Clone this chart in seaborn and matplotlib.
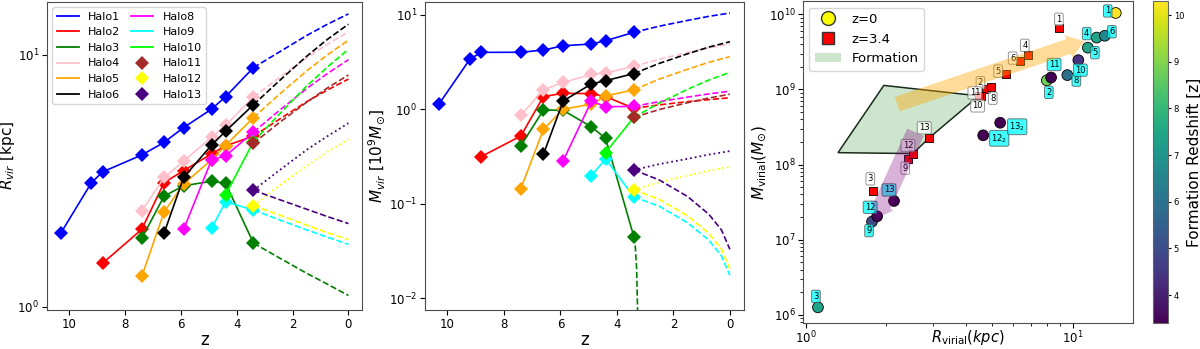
import numpy as np
import matplotlib
matplotlib.use('Agg')
import matplotlib.pyplot as plt
import matplotlib.colors as mcolors
import seaborn as sns
from matplotlib.lines import Line2D
from matplotlib.patches import Patch, Polygon

# ---- data ----
halos = ['Halo1', 'Halo2', 'Halo3', 'Halo4', 'Halo5', 'Halo6',
         'Halo8', 'Halo9', 'Halo10', 'Halo11', 'Halo12', 'Halo13']
colors = {'Halo1': 'blue', 'Halo2': 'red', 'Halo3': 'green', 'Halo4': 'pink',
          'Halo5': 'orange', 'Halo6': 'black', 'Halo8': 'magenta', 'Halo9': 'cyan',
          'Halo10': 'lime', 'Halo11': 'brown', 'Halo12': 'yellow', 'Halo13': 'indigo'}

z_track = {
    'Halo1': [10.3, 9.2, 8.8, 7.4, 6.6, 5.9, 4.9, 4.4, 3.4],
    'Halo2': [8.8, 7.4, 6.6, 5.9, 4.9, 4.4, 3.4],
    'Halo3': [7.4, 6.6, 5.9, 4.9, 4.4, 3.4],
    'Halo4': [7.4, 6.6, 5.9, 4.9, 4.4, 3.4],
    'Halo5': [7.4, 6.6, 5.9, 4.9, 4.4, 3.4],
    'Halo6': [6.6, 5.9, 4.9, 4.4, 3.4],
    'Halo8': [5.9, 4.9, 4.4, 3.4],
    'Halo9': [4.9, 4.4, 3.4],
    'Halo10': [4.4, 3.4],
    'Halo11': [3.4],
    'Halo12': [3.4],
    'Halo13': [3.4],
}
# virial radius [kpc]
R_track = {
    'Halo1': [1.96, 3.11, 3.43, 4.00, 4.49, 5.14, 6.08, 6.81, 8.88],
    'Halo2': [1.49, 2.03, 3.11, 3.47, 4.04, 4.35, 4.75],
    'Halo3': [1.87, 2.75, 3.02, 3.15, 3.09, 1.79],
    'Halo4': [2.40, 3.26, 3.78, 4.71, 5.24, 6.79],
    'Halo5': [1.32, 2.38, 3.07, 3.83, 4.36, 5.63],
    'Halo6': [1.96, 3.26, 4.38, 4.97, 6.33],
    'Halo8': [2.03, 3.83, 3.97, 4.93],
    'Halo9': [2.05, 2.61, 2.42],
    'Halo10': [2.78, 4.52],
    'Halo11': [4.45],
    'Halo12': [2.52],
    'Halo13': [2.90],
}
# virial mass [1e9 Msun]
M_track = {
    'Halo1': [1.13, 3.39, 3.99, 4.00, 4.22, 4.69, 4.89, 5.30, 6.50],
    'Halo2': [0.315, 0.52, 1.36, 1.47, 1.46, 1.36, 1.02],
    'Halo3': [0.41, 0.98, 0.97, 0.65, 0.49, 0.0447],
    'Halo4': [0.86, 1.60, 1.92, 2.33, 2.41, 2.84],
    'Halo5': [0.144, 0.61, 1.0, 1.13, 1.38, 1.60],
    'Halo6': [0.333, 1.22, 1.85, 2.0, 2.38],
    'Halo8': [0.285, 1.22, 1.06, 1.07],
    'Halo9': [0.198, 0.297, 0.118],
    'Halo10': [0.347, 0.82],
    'Halo11': [0.82],
    'Halo12': [0.14],
    'Halo13': [0.227],
}

# extrapolations from z=3.4 to z=0
z_ext = [3.4, 2.5, 1.5, 0.75, 0.0]
z_fall = [3.4, 2.5, 1.5, 0.75, 0.3, 0.0]
z_drop = [3.4, 3.35, 3.3, 3.27, 3.25]
R_ext = {
    'Halo1': [8.88, 10.2, 11.9, 13.2, 14.5],
    'Halo2': [4.75, 5.52, 6.50, 7.24, 8.0],
    'Halo3': [1.79, 1.57, 1.36, 1.23, 1.11],
    'Halo4': [6.79, 8.07, 9.70, 11.0, 12.3],
    'Halo5': [5.63, 6.92, 8.61, 9.98, 11.4],
    'Halo6': [6.33, 7.83, 9.84, 11.5, 13.2],
    'Halo8': [4.93, 5.97, 7.33, 8.42, 9.55],
    'Halo9': [2.42, 2.22, 2.02, 1.89, 1.77],
    'Halo10': [4.52, 5.77, 7.50, 8.93, 10.5],
    'Halo11': [4.45, 5.35, 6.47, 7.38, 8.3],
    'Halo12': [2.52, 2.32, 2.11, 1.97, 1.85],
    'Halo13': [2.90, 2.67, 2.44, 2.28, 2.14],
}
R_ext_up = {'Halo12': [2.52, 3.01, 3.62, 4.12, 4.62],
            'Halo13': [2.90, 3.46, 4.19, 4.75, 5.35]}
M_ext = {
    'Halo1': [6.50, 7.55, 8.69, 9.59, 10.4],
    'Halo2': [1.02, 1.11, 1.20, 1.26, 1.32],
    'Halo3': [0.0447, 0.036, 0.02, 0.008, 0.00126],
    'Halo4': [2.84, 3.38, 3.97, 4.45, 4.89],
    'Halo5': [1.60, 2.08, 2.64, 3.13, 3.59],
    'Halo6': [2.38, 3.05, 3.85, 4.53, 5.17],
    'Halo8': [1.07, 1.20, 1.34, 1.45, 1.55],
    'Halo9': [0.118, 0.0938, 0.0628, 0.0412, 0.0281, 0.0174],
    'Halo10': [0.82, 1.16, 1.62, 2.03, 2.45],
    'Halo11': [0.82, 0.99, 1.17, 1.31, 1.44],
    'Halo12': [0.14, 0.111, 0.0743, 0.0487, 0.0331, 0.0205],
    'Halo13': [0.227, 0.178, 0.119, 0.0775, 0.0528, 0.0328],
}
M_ext_up = {'Halo12': [0.14, 0.168, 0.198, 0.223, 0.245],
            'Halo13': [0.227, 0.262, 0.298, 0.33, 0.36]}
M_ext_z = {'Halo3': z_drop, 'Halo9': z_fall, 'Halo12': z_fall, 'Halo13': z_fall}

hull_order = ['Halo1', 'Halo11', 'Halo13', 'Halo12', 'Halo5']
orange_arrow = [(2.15, 6.2e8), (11.3, 4.5e9)]
purple_arrow = [(2.6, 2.9e8), (1.82, 1.8e7)]

# label offsets in pixels
circle_off = {'Halo1': (-8, 2), 'Halo2': (2, -12), 'Halo3': (-2, 11), 'Halo4': (-10, 4),
              'Halo5': (7, -5), 'Halo6': (7, 4), 'Halo8': (9, -5), 'Halo9': (-3, -9),
              'Halo10': (2, -10), 'Halo11': (3, 13), 'Halo12': (-7, 9), 'Halo13': (-5, 11)}
circle2_off = {'Halo12': (16, -3), 'Halo13': (17, -4)}
square_off = {'Halo1': (0, 9), 'Halo2': (-6, 6), 'Halo3': (-3, 12), 'Halo4': (-3, 10),
              'Halo5': (-8, 3), 'Halo6': (-7, 3), 'Halo8': (2, -11), 'Halo9': (-3, -9),
              'Halo10': (-3, -10), 'Halo11': (-4, 3), 'Halo12': (-5, 8), 'Halo13': (-5, 10)}

plt.rcParams['font.size'] = 8.5

fig = plt.figure(figsize=(12, 3.49), dpi=100)
ax1 = fig.add_axes([0.039, 0.112, 0.263, 0.883])
ax2 = fig.add_axes([0.354, 0.112, 0.266, 0.883])
ax3 = fig.add_axes([0.669, 0.0745, 0.275, 0.922])
cax = fig.add_axes([0.961, 0.0745, 0.0125, 0.922])


def draw_panel(ax, track, ext, ext_up, ext_z):
    for h in halos:
        c = colors[h]
        zz = ext_z.get(h, z_ext)
        sns.lineplot(x=zz, y=ext[h], ax=ax, color=c, linestyle='--', lw=1.2,
                     sort=False, estimator=None)
        if h in ext_up:
            sns.lineplot(x=z_ext, y=ext_up[h], ax=ax, color=c, linestyle=':', lw=1.3,
                         sort=False, estimator=None)
        sns.lineplot(x=z_track[h], y=track[h], ax=ax, color=c, lw=1.2, marker='D',
                     markersize=6.8, markeredgewidth=0, sort=False, estimator=None)
    ax.set_yscale('log')
    ax.set_xlim(10.8, -0.5)
    ax.minorticks_off()
    ax.tick_params(pad=2)
    ax.set_xlabel('z', fontsize=12, labelpad=0)


draw_panel(ax1, R_track, R_ext, R_ext_up, {})
ax1.set_ylim(0.973, 16.2)
ax1.set_ylabel('$R_{vir}$ [kpc]', fontsize=11, labelpad=0)

draw_panel(ax2, M_track, M_ext, M_ext_up, M_ext_z)
ax2.set_ylim(0.0075, 13.7)
ax2.set_ylabel(r'$M_{vir}$ [$10^9M_{\odot}$]', fontsize=11, labelpad=1)

handles = []
for h in halos:
    if h in ['Halo11', 'Halo12', 'Halo13']:
        handles.append(Line2D([], [], color=colors[h], marker='D', ls='none',
                              markersize=7.5, markeredgewidth=0, label=h))
    else:
        handles.append(Line2D([], [], color=colors[h], lw=1.3, label=h))
ax1.legend(handles=handles, ncol=2, loc='upper left', fontsize=8,
           handlelength=2.0, columnspacing=1.0, labelspacing=0.5)

# ---- right panel ----
zform = {h: z_track[h][0] for h in halos}
norm = mcolors.Normalize(vmin=min(zform.values()), vmax=max(zform.values()))

R0 = [R_ext[h][-1] for h in halos] + [R_ext_up[h][-1] for h in R_ext_up]
M0 = [M_ext[h][-1] * 1e9 for h in halos] + [M_ext_up[h][-1] * 1e9 for h in M_ext_up]
zf0 = [zform[h] for h in halos] + [zform[h] for h in R_ext_up]
R34 = [R_track[h][-1] for h in halos]
M34 = [M_track[h][-1] * 1e9 for h in halos]

hull = [(R_track[h][0], M_track[h][0] * 1e9) for h in hull_order]
ax3.add_patch(Polygon(hull, closed=True, fc=(0.0, 0.5, 0.0, 0.2), ec='#1a2a1a',
                      lw=1.1, zorder=1))

sns.scatterplot(x=R34, y=M34, ax=ax3, marker='s', color='red', edgecolor='black',
                linewidth=0.6, s=30, zorder=3, legend=False)
sns.scatterplot(x=R0, y=M0, ax=ax3, hue=zf0, palette='viridis', hue_norm=norm,
                edgecolor='black', linewidth=0.6, s=60, zorder=3, legend=False)

lab_kw = dict(textcoords='offset pixels', ha='center', va='center', fontsize=6, zorder=4)
for i, h in enumerate(halos):
    num = h.replace('Halo', '')
    ax3.annotate(num, (R0[i], M0[i]), xytext=circle_off[h],
                 bbox=dict(boxstyle='round,pad=0.2', fc='cyan', ec='0.3', alpha=0.75, lw=0.7),
                 **lab_kw)
    ax3.annotate(num, (R34[i], M34[i]), xytext=square_off[h],
                 bbox=dict(boxstyle='round,pad=0.2', fc='white', ec='0.4', alpha=0.7, lw=0.7),
                 **lab_kw)
for h in R_ext_up:
    num = h.replace('Halo', '')
    ax3.annotate(num + '$_2$', (R_ext_up[h][-1], M_ext_up[h][-1] * 1e9), xytext=circle2_off[h],
                 bbox=dict(boxstyle='round,pad=0.2', fc='cyan', ec='0.3', alpha=0.75, lw=0.7),
                 **lab_kw)

ax3.annotate('', xy=orange_arrow[1], xytext=orange_arrow[0], zorder=5,
             arrowprops=dict(arrowstyle='simple,head_length=0.6,head_width=0.85,tail_width=0.55',
                             mutation_scale=20, fc='orange', ec='none', alpha=0.4))
ax3.annotate('', xy=purple_arrow[1], xytext=purple_arrow[0], zorder=5,
             arrowprops=dict(arrowstyle='simple,head_length=0.5,head_width=0.9,tail_width=0.65',
                             mutation_scale=20, fc='purple', ec='none', alpha=0.3))

ax3.set_xscale('log')
ax3.set_yscale('log')
ax3.set_xlim(0.974, 16.8)
ax3.set_ylim(7.8e5, 1.49e10)
ax3.set_xlabel(r'$R_{\rm virial}(kpc)$', fontsize=10.5)
ax3.xaxis.set_label_coords(0.5, -0.015)
ax3.set_ylabel(r'$M_{\rm virial}(M_{\odot})$', fontsize=11, labelpad=1)
ax3.tick_params(which='minor', length=2)
ax3.tick_params(pad=1.5)

leg_handles = [
    Line2D([], [], marker='o', ls='none', markerfacecolor='yellow', markeredgecolor='0.2',
           markersize=10, label='z=0'),
    Line2D([], [], marker='s', ls='none', markerfacecolor='red', markeredgecolor='0.2',
           markersize=8, label='z=3.4'),
    Patch(fc=(0.0, 0.5, 0.0, 0.2), ec='none', label='Formation'),
]
ax3.legend(handles=leg_handles, loc='upper left', fontsize=9.5, labelspacing=0.5)

for ax in (ax1, ax2, ax3):
    for s in ax.spines.values():
        s.set_color('0.3')

sm = plt.cm.ScalarMappable(norm=norm, cmap='viridis')
cb = fig.colorbar(sm, cax=cax)
cb.set_label('Formation Redshift [z]', fontsize=11, labelpad=2)
cb.ax.tick_params(labelsize=6, pad=1.5, length=2.5)
cb.outline.set_edgecolor('0.4')

fig.savefig('out.png', dpi=100)
